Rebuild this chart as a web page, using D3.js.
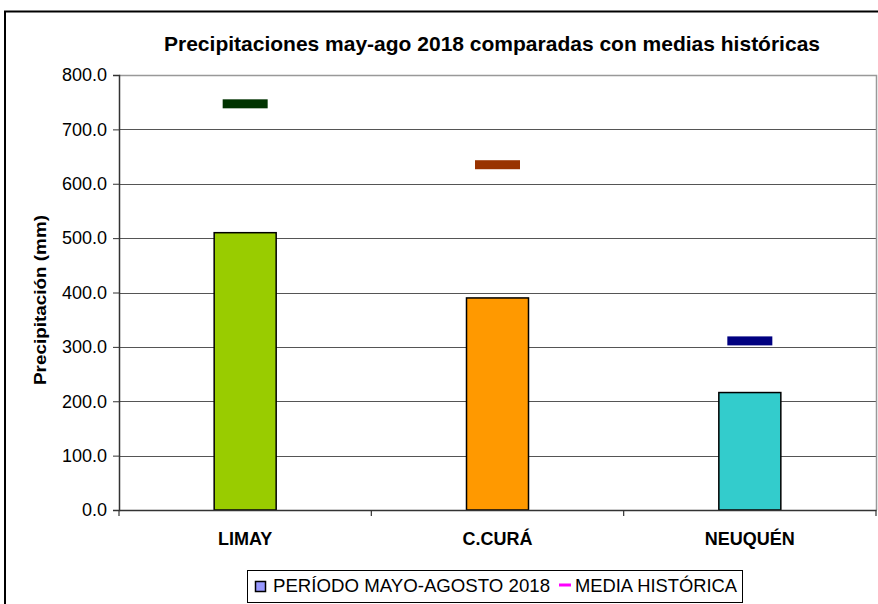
<!DOCTYPE html>
<html><head><meta charset="utf-8">
<script src="https://cdn.jsdelivr.net/npm/d3@7"></script>
<style>body{margin:0;background:#fff}svg{display:block}text{font-family:"Liberation Sans",Arial,sans-serif}</style>
</head><body><svg id="c" width="878" height="604"></svg>
<script>
const categories = ["LIMAY", "C.CURÁ", "NEUQUÉN"];
const periodo2018 = [510, 390, 216];
const mediaHistorica = [747, 635, 311];
const barColors = ["#99CC00", "#FF9900", "#33CCCC"];
const mediaColors = ["#003300", "#993300", "#000080"];
const yTicks = [0, 100, 200, 300, 400, 500, 600, 700, 800];
const title = "Precipitaciones may-ago 2018 comparadas con medias históricas";
const yTitle = "Precipitación (mm)";
const legendLabels = ["PERÍODO MAYO-AGOSTO 2018", "MEDIA HISTÓRICA"];

const svg = d3.select("#c");
const L = 119, R = 876, T = 75, B = 510;
const x = d3.scaleBand().domain(categories).range([L, R]);
const y = d3.scaleLinear().domain([0, 800]).range([B, T]);

// outer frame
svg.append("path").attr("d", `M5,604 V11.5 H878`).attr("fill", "none").attr("stroke", "#000").attr("stroke-width", 2);

// title
svg.append("text").attr("x", 492).attr("y", 51).attr("text-anchor", "middle")
  .attr("font-size", 21).attr("font-weight", "bold").attr("textLength", 656).attr("lengthAdjust", "spacingAndGlyphs").text(title);

// gridlines
svg.append("g").selectAll("line").data(yTicks.filter(d => d > 0 && d < 800)).join("line")
  .attr("x1", L).attr("x2", R).attr("y1", d => Math.round(y(d)) + 0.5).attr("y2", d => Math.round(y(d)) + 0.5)
  .attr("stroke", "#555").attr("stroke-width", 1);
// plot border top/right
svg.append("path").attr("d", `M${L},${T + 0.5} H${R + 0.5} V${B}`).attr("fill", "none").attr("stroke", "#999").attr("stroke-width", 1.5);

// bars
svg.append("g").selectAll("rect").data(categories).join("rect")
  .attr("x", d => x(d) + x.bandwidth() / 2 - 31).attr("width", 62)
  .attr("y", (d, i) => y(periodo2018[i])).attr("height", (d, i) => B - y(periodo2018[i]))
  .attr("fill", (d, i) => barColors[i]).attr("stroke", "#000").attr("stroke-width", 1.5);

// media markers
svg.append("g").selectAll("rect").data(categories).join("rect")
  .attr("x", d => x(d) + x.bandwidth() / 2 - 22.5).attr("width", 45)
  .attr("y", (d, i) => y(mediaHistorica[i]) - 4.5).attr("height", 9)
  .attr("fill", (d, i) => mediaColors[i]);

// y axis
const ya = svg.append("g").attr("transform", `translate(${L},0)`)
  .call(d3.axisLeft(y).tickValues(yTicks).tickFormat(d3.format(".1f")).tickSize(6).tickPadding(6));
ya.select(".domain").attr("stroke", "#333").attr("stroke-width", 1.5);
ya.selectAll(".tick line").attr("stroke", "#333");
ya.selectAll("text").attr("font-size", 18).attr("font-family", "Liberation Sans, Arial, sans-serif").attr("fill", "#000");

// x axis
const xa = svg.append("g").attr("transform", `translate(0,${B})`)
  .call(d3.axisBottom(x).tickSize(0).tickPadding(22));
xa.select(".domain").attr("stroke", "#333").attr("stroke-width", 1.5);
xa.selectAll("text").attr("font-size", 18).attr("font-weight", "bold").attr("font-family", "Liberation Sans, Arial, sans-serif").attr("fill", "#000");
// category separators
svg.append("g").selectAll("line").data(d3.range(categories.length + 1)).join("line")
  .attr("x1", i => L + i * x.step()).attr("x2", i => L + i * x.step())
  .attr("y1", B).attr("y2", B + 6).attr("stroke", "#333").attr("stroke-width", 1.2);

// y title
svg.append("text").attr("transform", "translate(46,300) rotate(-90)").attr("text-anchor", "middle")
  .attr("font-size", 17).attr("font-weight", "bold").attr("textLength", 170).attr("lengthAdjust", "spacingAndGlyphs").text(yTitle);

// legend
const lg = svg.append("g");
lg.append("rect").attr("x", 247.5).attr("y", 570.5).attr("width", 495).attr("height", 32).attr("fill", "#fff").attr("stroke", "#000").attr("stroke-width", 1);
lg.append("rect").attr("x", 255.5).attr("y", 581.5).attr("width", 10).attr("height", 10).attr("fill", "#9999FF").attr("stroke", "#000").attr("stroke-width", 1.5);
lg.append("text").attr("x", 273).attr("y", 592).attr("font-size", 19).attr("textLength", 277).attr("lengthAdjust", "spacingAndGlyphs").text(legendLabels[0]);
lg.append("line").attr("x1", 559).attr("x2", 571).attr("y1", 585).attr("y2", 585).attr("stroke", "#FF00FF").attr("stroke-width", 3);
lg.append("text").attr("x", 575).attr("y", 592).attr("font-size", 19).attr("textLength", 162).attr("lengthAdjust", "spacingAndGlyphs").text(legendLabels[1]);
</script></body></html>
